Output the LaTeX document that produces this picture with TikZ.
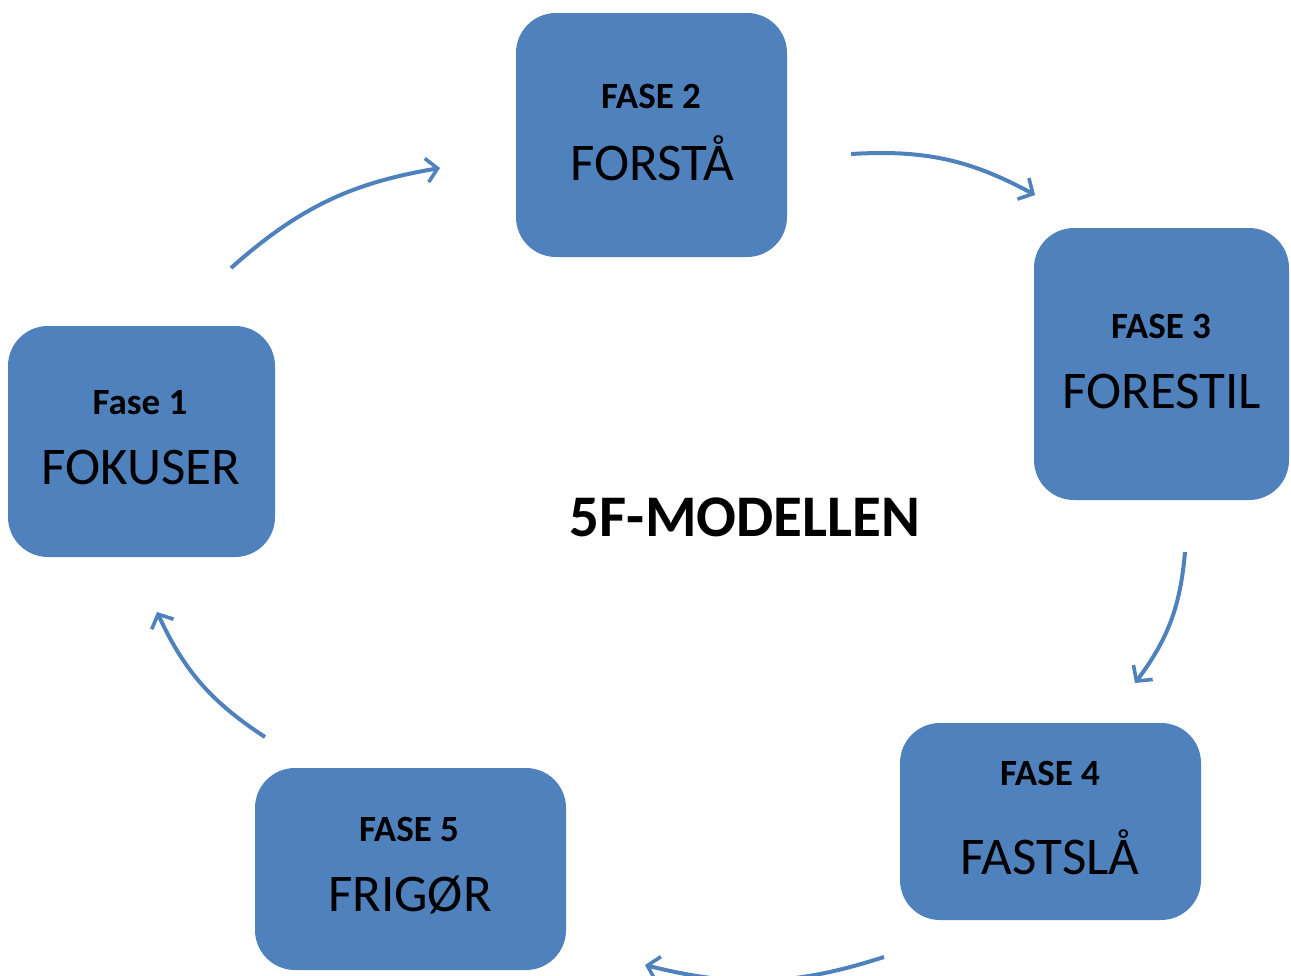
\documentclass[tikz,border=0pt]{standalone}
\usepackage{fontspec}
\setmainfont{Carlito}
\usetikzlibrary{arrows.meta}
\definecolor{boxblue}{HTML}{4F81BD}
\begin{document}
\begin{tikzpicture}[x=1pt,y=-1pt,
  phase/.style={fill=boxblue, draw=none, rounded corners=40pt, inner sep=0pt},
  small/.style={font=\fontsize{37}{44}\selectfont\bfseries, inner sep=0pt, anchor=base},
  big/.style={font=\fontsize{53}{60}\selectfont, inner sep=0pt, anchor=base},
  flow/.style={draw=boxblue, line width=4pt, -{Straight Barb[length=11pt,width=24pt,line width=3.6pt]}, bend left=16}]
\useasboundingbox (0,0) rectangle (1291,975);
\node[phase, minimum width=267pt, minimum height=231pt] (b1) at (141.5,441.5) {};
\node[phase, minimum width=271pt, minimum height=244pt] (b2) at (651.5,135) {};
\node[phase, minimum width=255pt, minimum height=272pt] (b3) at (1161.5,364) {};
\node[phase, minimum width=301pt, minimum height=197pt] (b4) at (1050.5,821.5) {};
\node[phase, minimum width=311pt, minimum height=202pt] (b5) at (410.5,869) {};

\node[small] (t1) at (140,414) {Fase 1};
\node[big] (n1) at (141,484) {FOKUSER};
\node[small] (t2) at (651,108) {FASE 2};
\node[big] (n2) at (652,180) {FORSTÅ};
\node[small] (t3) at (1161,338) {FASE 3};
\node[big] (n3) at (1162,408) {FORESTIL};
\node[small] (t4) at (1050,785) {FASE 4};
\node[big] (n4) at (1050,874) {FASTSLÅ};
\node[small] (t5) at (409,841) {FASE 5};
\node[big] (n5) at (410,911) {FRIGØR};

\node[font=\fontsize{59}{66}\selectfont\bfseries, inner sep=0pt, anchor=base] (title) at (745,536) {5F-MODELLEN};

\coordinate (a1s) at (231,268);
\coordinate (a1e) at (440,168);
\coordinate (a2s) at (851,154);
\coordinate (a2e) at (1035,195);
\coordinate (a3s) at (1185,552);
\coordinate (a3e) at (1135,683);
\coordinate (a4s) at (884,957);
\coordinate (a4e) at (645,965);
\coordinate (a5s) at (265,737);
\coordinate (a5e) at (157,612);
\draw[flow] (a1s) to (a1e);
\draw[flow] (a2s) to (a2e);
\draw[flow] (a3s) to (a3e);
\draw[flow] (a4s) to (a4e);
\draw[flow] (a5s) to (a5e);
\end{tikzpicture}
\end{document}
